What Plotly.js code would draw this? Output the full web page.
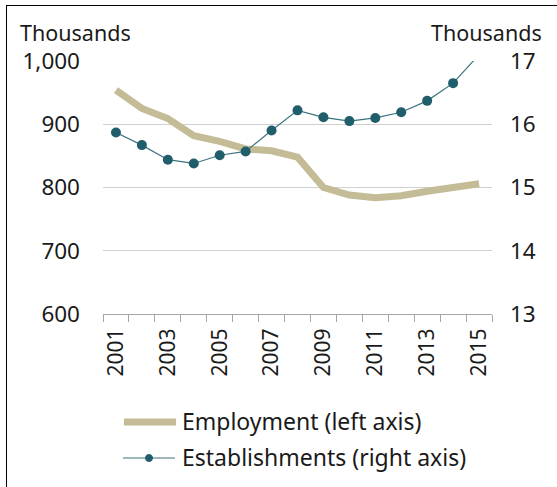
<!DOCTYPE html>
<html>
<head>
<meta charset="utf-8">
<script src="https://cdn.plot.ly/plotly-3.0.1.min.js"></script>
<style>
  html, body { margin: 0; padding: 0; background: #fff; }
  #wrap { position: relative; width: 557px; height: 487px; overflow: hidden; }
  #chart { position: absolute; left: 0; top: 0; width: 557px; height: 487px; }
  #frame { position: absolute; left: 6px; top: 5px; width: 600px; height: 520px; border: 1.5px solid #000; pointer-events: none; }
</style>
</head>
<body>
<div id="wrap"><div id="chart"></div><div id="frame"></div></div>
<script>
const years = [2001, 2002, 2003, 2004, 2005, 2006, 2007, 2008, 2009, 2010, 2011, 2012, 2013, 2014, 2015];
const employment = [954, 925, 909, 882, 873, 861, 858, 848, 800, 788, 784, 787, 794, 800, 806];
const establishments = [15.87, 15.67, 15.44, 15.38, 15.51, 15.57, 15.90, 16.22, 16.11, 16.05, 16.10, 16.19, 16.37, 16.65, 17.10];
const xTickYears = [2001, 2003, 2005, 2007, 2009, 2011, 2013, 2015];
const leftTicks = [600, 700, 800, 900, 1000];
const leftTickText = ['600', '700', '800', '900', '1,000'];
const rightTicks = [13, 14, 15, 16, 17];
const seriesNames = ['Employment (left axis)', 'Establishments (right axis)'];
const axisTitle = 'Thousands';

const tan = '#c4bc96';
const teal = '#215e6b';
const FONT = 'Noto Sans, DejaVu Sans, sans-serif';
const txt = '#1a1a1a';

const boundaries = years.map(y => y - 0.5).concat([years[years.length - 1] + 0.5]);

const traces = [
  { x: years, y: employment, name: seriesNames[0], type: 'scatter', mode: 'lines',
    line: { color: tan, width: 7 }, yaxis: 'y', showlegend: false, hoverinfo: 'skip' },
  { x: years, y: establishments, name: seriesNames[1], type: 'scatter', mode: 'lines+markers',
    line: { color: '#3c7380', width: 1.2 }, marker: { color: teal, size: 10 },
    yaxis: 'y2', showlegend: false, hoverinfo: 'skip', cliponaxis: true }
];

// plot area in pixels: left 103, right 492, top 61, bottom 314
const L = 103, R = 492, T = 61, B = 314;
const px = v => (v - L) / (R - L);
const py = v => (B - v) / (B - T);

const layout = {
  width: 557, height: 487,
  margin: { l: L, r: 557 - R, t: T, b: 487 - B, pad: 0 },
  paper_bgcolor: '#fff', plot_bgcolor: '#fff',
  font: { family: FONT, color: txt, size: 21 },
  showlegend: false,
  xaxis: {
    range: [years[0] - 0.5, years[years.length - 1] + 0.5],
    tickmode: 'array', tickvals: xTickYears, ticktext: xTickYears.map(String),
    tickangle: -90, ticks: '', showgrid: false, zeroline: false,
    showline: true, linecolor: '#a6a6a6', linewidth: 1,
    tickfont: { family: FONT, size: 21, color: txt },
    ticklabelstandoff: 5,
    minor: { tickmode: 'array', tickvals: boundaries, ticks: 'outside', ticklen: 7, tickcolor: '#a6a6a6', tickwidth: 1, showgrid: false }
  },
  yaxis: {
    range: [600, 1000], tickmode: 'array', tickvals: leftTicks, ticktext: leftTickText,
    showgrid: true, gridcolor: '#d0d0d0', gridwidth: 1, zeroline: false, showline: false, ticks: '',
    tickfont: { family: FONT, size: 22.5, color: txt }, ticklabelstandoff: 22
  },
  yaxis2: {
    range: [13, 17], overlaying: 'y', side: 'right', tickmode: 'array', tickvals: rightTicks,
    showgrid: false, zeroline: false, showline: false, ticks: '',
    tickfont: { family: FONT, size: 22.5, color: txt }, ticklabelstandoff: 17
  },
  annotations: [
    { text: axisTitle, xref: 'paper', yref: 'paper', x: px(19), y: py(32), xanchor: 'left', yanchor: 'middle',
      showarrow: false, borderpad: 0, font: { family: FONT, size: 21.5, color: txt } },
    { text: axisTitle, xref: 'paper', yref: 'paper', x: px(543), y: py(32), xanchor: 'right', yanchor: 'middle',
      showarrow: false, borderpad: 0, font: { family: FONT, size: 21.5, color: txt } },
    { text: seriesNames[0], xref: 'paper', yref: 'paper', x: px(180), y: py(421), xanchor: 'left', yanchor: 'middle',
      showarrow: false, font: { family: FONT, size: 23, color: txt } },
    { text: seriesNames[1], xref: 'paper', yref: 'paper', x: px(180), y: py(457), xanchor: 'left', yanchor: 'middle',
      showarrow: false, font: { family: FONT, size: 23, color: txt } }
  ],
  shapes: [
    { type: 'line', xref: 'paper', yref: 'paper', x0: px(124), x1: px(176), y0: py(422), y1: py(422),
      line: { color: tan, width: 7 } },
    { type: 'line', xref: 'paper', yref: 'paper', x0: px(123), x1: px(175), y0: py(458), y1: py(458),
      line: { color: '#3c7380', width: 1.2 } },
    { type: 'circle', xref: 'paper', yref: 'paper', x0: px(145.5), x1: px(152.5), y0: py(454.5), y1: py(461.5),
      fillcolor: teal, line: { color: teal, width: 1 } }
  ]
};

Plotly.newPlot('chart', traces, layout, { staticPlot: true, displayModeBar: false });
</script>
</body>
</html>
